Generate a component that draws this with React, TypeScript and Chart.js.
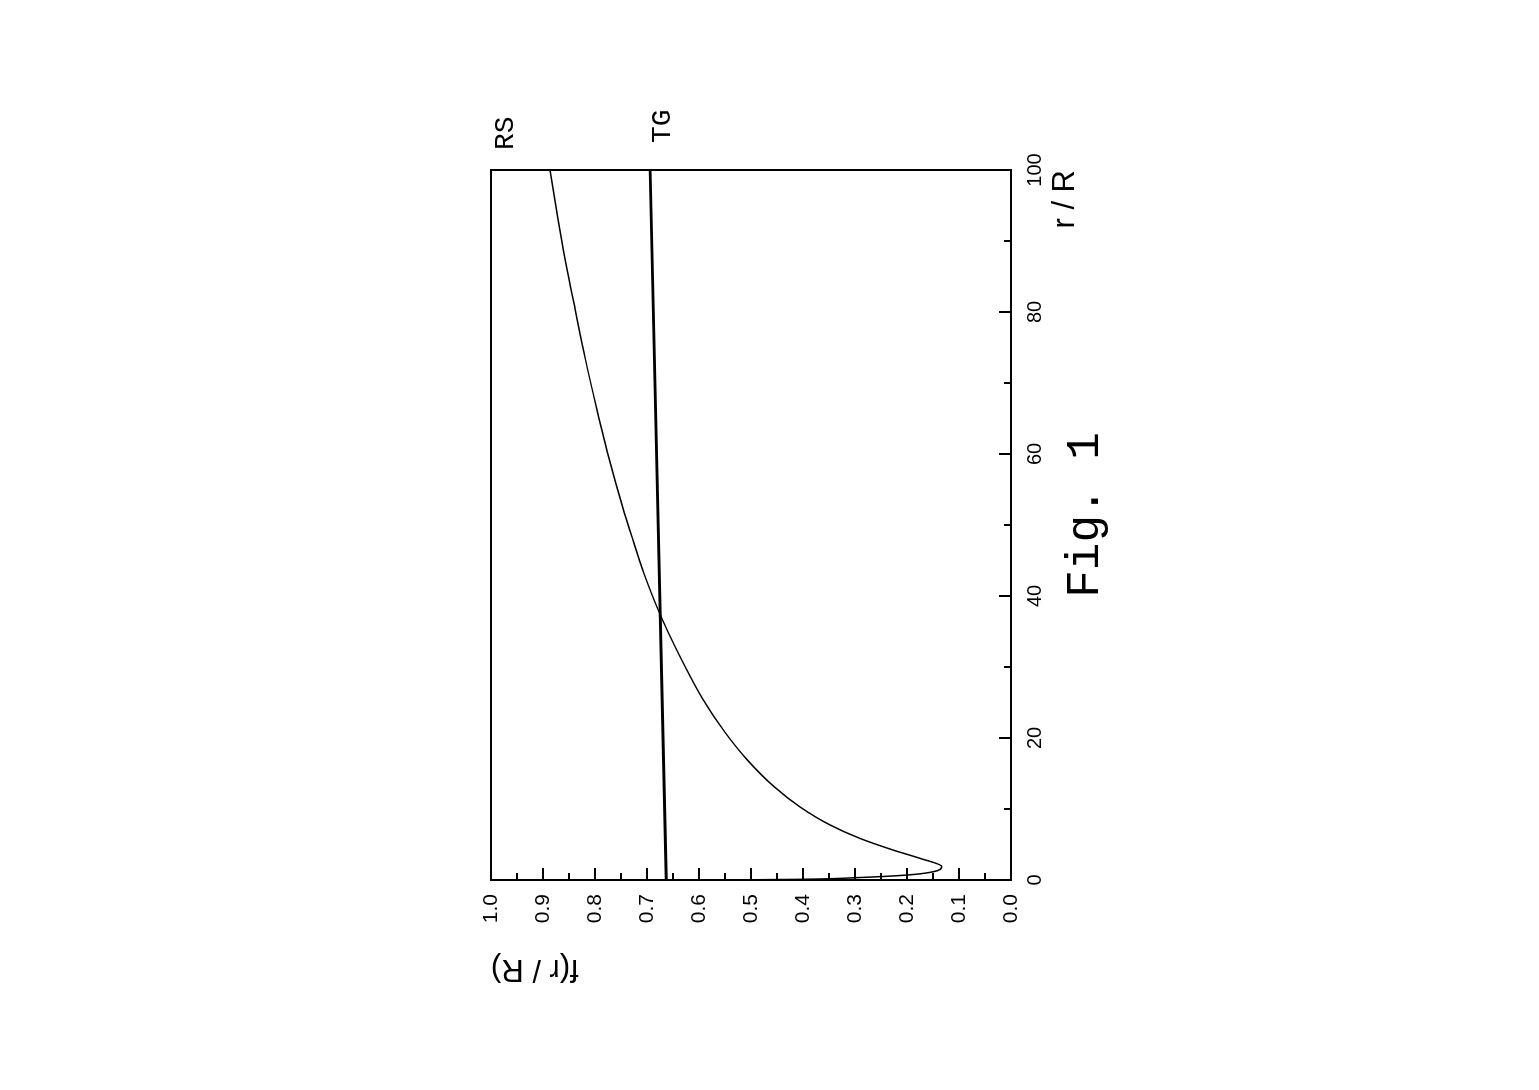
import React, { useEffect, useRef } from 'react';
import { Chart, registerables } from 'chart.js';

Chart.register(...registerables);

// RS curve (r/R, f)
const rValuesRS = [0, 0.03, 0.1, 0.33, 0.7, 1.17, 1.87, 3.05, 4.2, 5.87, 7.75, 10.3, 13.1, 16.9, 20.9, 25.4, 29.1, 36.6, 43.2, 47.9, 52.6, 59.4, 66.2, 73.2, 80.3, 87.3, 93.5, 100];
const fValuesRS = [0.6, 0.5, 0.4, 0.297, 0.2, 0.149, 0.133, 0.175, 0.226, 0.291, 0.348, 0.406, 0.455, 0.507, 0.551, 0.592, 0.62, 0.67, 0.706, 0.727, 0.747, 0.773, 0.796, 0.818, 0.838, 0.857, 0.872, 0.8865];
// TG line
const rValuesTG = [0, 100];
const fValuesTG = [0.663, 0.694];

const seriesNames = ['RS', 'TG'];
const rMajorTicks = [0, 20, 40, 60, 80, 100];
const rMinorTicks = [10, 30, 50, 70, 90];
const fMajorTicks = [0, 0.1, 0.2, 0.3, 0.4, 0.5, 0.6, 0.7, 0.8, 0.9, 1.0];
const fMinorTicks = [0.05, 0.15, 0.25, 0.35, 0.45, 0.55, 0.65, 0.75, 0.85, 0.95];
const figureCaption = 'Fig. 1';
const xTitle = 'r / R';
const yTitle = 'f(r / R)';

const SANS = '"Liberation Sans", Arial, sans-serif';
const MONO = '"Liberation Mono", "Courier New", monospace';

const framePlugin = {
  id: 'frame',
  afterDraw(chart: any) {
    const { ctx, chartArea: a, scales } = chart;
    const xs = scales.x;
    const ys = scales.y;
    ctx.save();
    ctx.strokeStyle = '#000';
    ctx.lineWidth = 2;
    ctx.strokeRect(a.left, a.top, a.right - a.left, a.bottom - a.top);
    ctx.beginPath();
    for (const v of fMajorTicks) {
      const y = Math.round(ys.getPixelForValue(v));
      ctx.moveTo(a.left, y);
      ctx.lineTo(a.left + 12, y);
    }
    for (const v of fMinorTicks) {
      const y = Math.round(ys.getPixelForValue(v));
      ctx.moveTo(a.left, y);
      ctx.lineTo(a.left + 7, y);
    }
    for (const v of rMajorTicks) {
      const x = Math.round(xs.getPixelForValue(v));
      ctx.moveTo(x, a.bottom);
      ctx.lineTo(x, a.bottom - 12);
    }
    for (const v of rMinorTicks) {
      const x = Math.round(xs.getPixelForValue(v));
      ctx.moveTo(x, a.bottom);
      ctx.lineTo(x, a.bottom - 7);
    }
    ctx.stroke();

    ctx.fillStyle = '#000';
    ctx.font = '28px ' + MONO;
    ctx.textAlign = 'left';
    ctx.textBaseline = 'alphabetic';
    const xEnd = xs.getPixelForValue(100);
    ctx.fillText(seriesNames[0], xEnd + 20, ys.getPixelForValue(0.958));
    ctx.fillText(seriesNames[1], xEnd + 27, ys.getPixelForValue(0.656));

    ctx.font = '46px ' + MONO;
    ctx.textAlign = 'center';
    ctx.fillText(figureCaption, (a.left + a.right) / 2 + 10, a.bottom + 87);
    ctx.restore();
  },
};

export default function App() {
  const ref = useRef<HTMLCanvasElement>(null);
  useEffect(() => {
    document.body.style.margin = '0';
    document.body.style.overflow = 'hidden';
    const canvas = ref.current!;
    const chart = new Chart(canvas, {
      type: 'line',
      data: {
        datasets: [
          {
            label: seriesNames[0],
            data: rValuesRS.map((r, i) => ({ x: r, y: fValuesRS[i] })),
            borderColor: '#000',
            borderWidth: 1.5,
            pointRadius: 0,
            fill: false,
            cubicInterpolationMode: 'monotone',
          },
          {
            label: seriesNames[1],
            data: rValuesTG.map((r, i) => ({ x: r, y: fValuesTG[i] })),
            borderColor: '#000',
            borderWidth: 2.8,
            pointRadius: 0,
            fill: false,
          },
        ],
      },
      options: {
        animation: false,
        responsive: false,
        maintainAspectRatio: false,
        devicePixelRatio: 1,
        layout: { padding: { left: 103, right: 170, top: 491, bottom: 455 } },
        plugins: { legend: { display: false }, tooltip: { enabled: false }, title: { display: false } },
        scales: {
          x: {
            type: 'linear',
            position: 'bottom',
            min: 0,
            max: 100,
            grid: { display: false, drawTicks: false },
            border: { display: false },
            ticks: { stepSize: 20, color: '#000', padding: 12, font: { family: SANS, size: 20 }, maxRotation: 0 },
            title: { display: true, text: xTitle, align: 'end', color: '#000', padding: 0, font: { family: SANS, size: 31 } },
            afterFit: (s: any) => { s.height = 73; },
          },
          y: {
            type: 'linear',
            position: 'left',
            min: 0,
            max: 1,
            grid: { display: false, drawTicks: false },
            border: { display: false },
            ticks: { stepSize: 0.1, color: '#000', padding: 14, font: { family: SANS, size: 21 }, callback: (v: any) => Number(v).toFixed(1) },
            title: { display: true, text: yTitle, align: 'end', color: '#000', padding: 0, font: { family: SANS, size: 31 } },
            afterFit: (s: any) => { s.width = 107; },
          },
        },
      },
      plugins: [framePlugin],
    } as any);
    return () => chart.destroy();
  }, []);
  return (
    <div
      style={{
        position: 'fixed',
        left: 0,
        top: 0,
        width: 1090,
        height: 1539,
        transformOrigin: '0 0',
        transform: 'translateY(1090px) rotate(-90deg)',
        background: '#fff',
      }}
    >
      <canvas ref={ref} width={1090} height={1539} style={{ display: 'block', width: 1090, height: 1539 }} />
    </div>
  );
}
